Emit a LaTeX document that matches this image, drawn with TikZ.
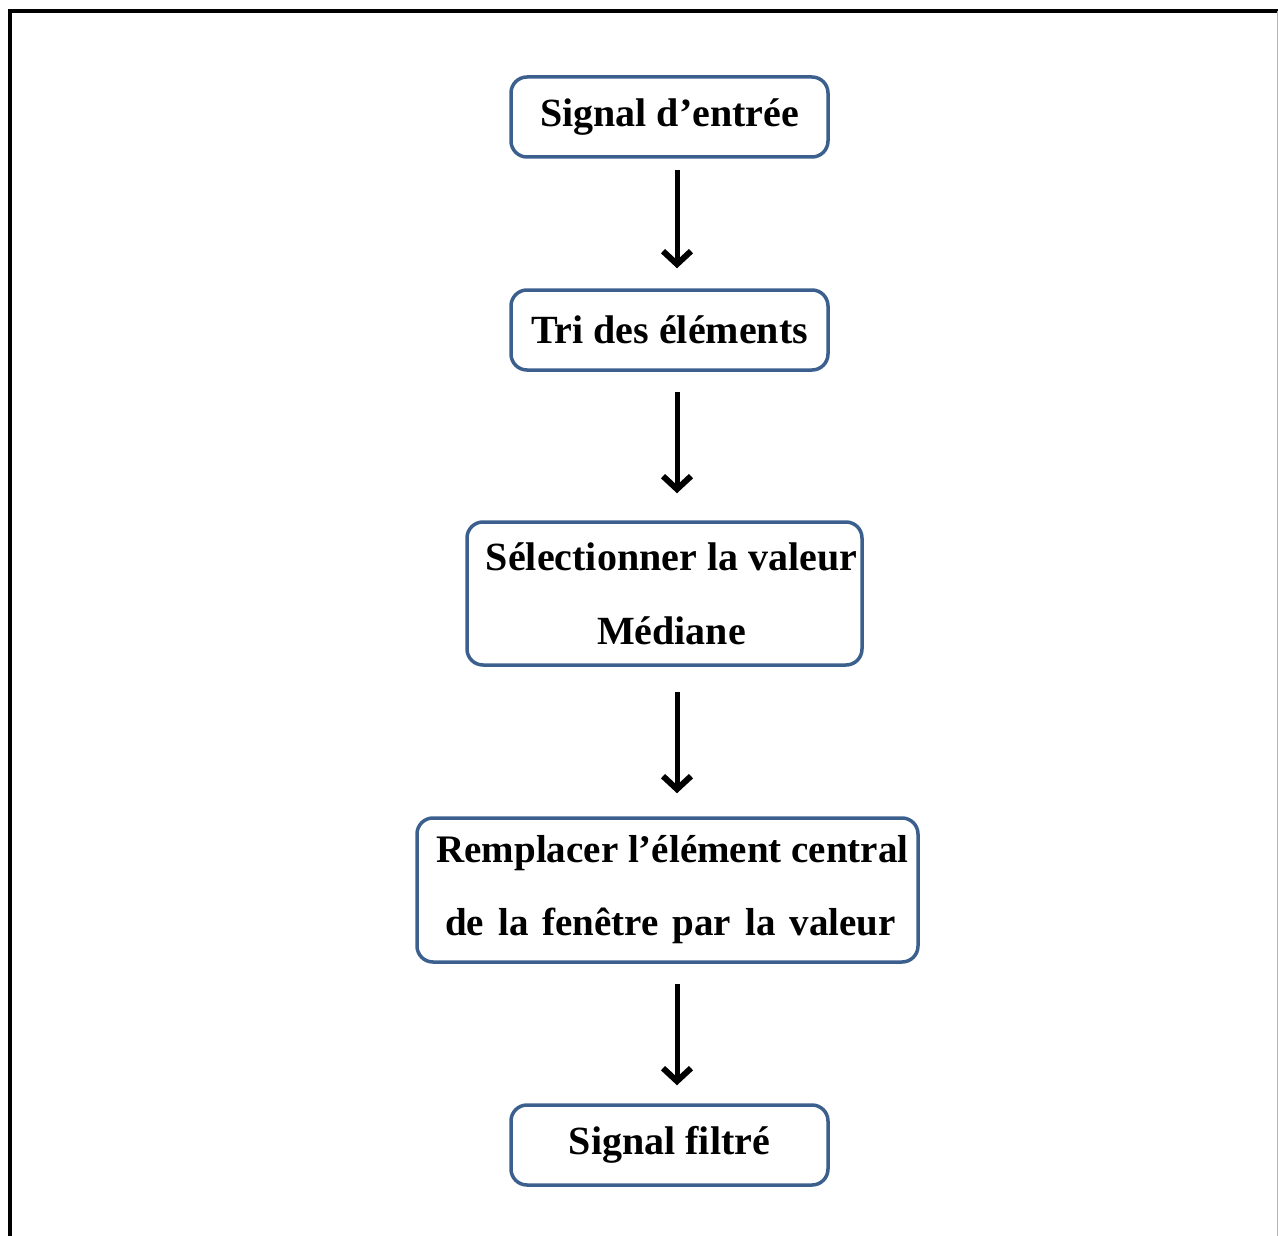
\documentclass[tikz,border=0pt]{standalone}
\usepackage{fontspec}
\setmainfont{Liberation Serif}
\usetikzlibrary{arrows.meta}
\definecolor{boxblue}{RGB}{60,96,142}
\tikzset{
  box/.style={draw=boxblue, line width=3.5pt, rounded corners=16pt, fill=white,
    inner sep=0pt, align=center,
    font=\fontsize{40}{74}\selectfont\bfseries},
  arr/.style={line width=5pt, -{Straight Barb[length=13pt,width=28pt,line width=6pt]}},
}
\begin{document}
\begin{tikzpicture}[x=1pt,y=-1pt]
\useasboundingbox (0,0) rectangle (1278,1236);
\fill[white] (0,0) rectangle (1278,1236);
% frame
\draw[line width=4pt] (10,1236) -- (10,11) -- (1278,11);
\draw[line width=1pt, gray!60] (1277,11) -- (1277,1236);
% boxes
\node[box, minimum width=317pt, minimum height=80pt] (b1) at (669.5,117) {\raisebox{2pt}{Signal d’entrée}};
\node[box, minimum width=317pt, minimum height=80pt] (b2) at (669.5,330) {Tri des éléments};
\node[box, minimum width=395pt, minimum height=143pt] (b3) at (664.5,593.5) {\hspace*{14pt}Sélectionner la valeur\\\hspace*{14pt}Médiane};
\node[box, minimum width=501pt, minimum height=144pt, font=\fontsize{39}{73}\selectfont\bfseries] (b4) at (667.5,890) {\hspace*{10pt}Remplacer l’élément central\\\hspace*{6pt}{\spaceskip=0.36em plus 0.1em de la fenêtre par la valeur}};
\node[box, minimum width=317pt, minimum height=80pt] (b5) at (669.5,1145) {\raisebox{2pt}{Signal filtré}};
% arrows
\draw[arr] ([xshift=7.5pt,yshift=-11pt]b1.south) -- ([xshift=7.5pt,yshift=20pt]b2.north);
\draw[arr] ([xshift=7.5pt,yshift=-20pt]b2.south) -- ([xshift=12.5pt,yshift=27pt]b3.north);
\draw[arr] ([xshift=12.5pt,yshift=-25pt]b3.south) -- ([xshift=9.5pt,yshift=23pt]b4.north);
\draw[arr] ([xshift=9.5pt,yshift=-20pt]b4.south) -- ([xshift=7.5pt,yshift=18pt]b5.north);
\end{tikzpicture}
\end{document}
